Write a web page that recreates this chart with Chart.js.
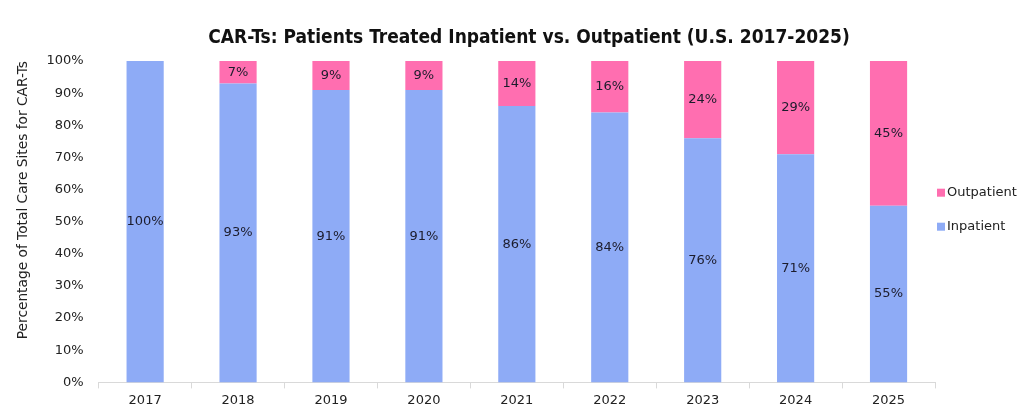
<!DOCTYPE html>
<html>
<head>
<meta charset="utf-8">
<script src="https://cdn.jsdelivr.net/npm/chart.js@4/dist/chart.umd.min.js"></script>
<style>
  html, body { margin: 0; padding: 0; background: #fff; }
  .chart { width: 1024px; height: 414px; position: relative; }
</style>
</head>
<body>
<div class="chart"><canvas id="chart"></canvas></div>
<script>
const years = ['2017', '2018', '2019', '2020', '2021', '2022', '2023', '2024', '2025']
const inpatient = [100, 93, 91, 91, 86, 84, 76, 71, 55]
const outpatient = [0, 7, 9, 9, 14, 16, 24, 29, 45]

const chartTitle = 'CAR-Ts: Patients Treated Inpatient vs. Outpatient (U.S. 2017-2025)'
const textColor = '#222'
const fontFamily = '"DejaVu Sans", Verdana, sans-serif'

// percentage in the middle of each bar segment
const segmentLabels = {
  id: 'segmentLabels',
  afterDatasetsDraw(chart) {
    const ctx = chart.ctx
    ctx.save()
    ctx.font = `13px ${fontFamily}`
    ctx.fillStyle = '#1c1c2c'
    ctx.textAlign = 'center'
    ctx.textBaseline = 'middle'
    chart.data.datasets.forEach((ds, i) => {
      const meta = chart.getDatasetMeta(i)
      meta.data.forEach((bar, j) => {
        const value = ds.data[j]
        if (!value) return
        ctx.fillText(value + '%', bar.x, (bar.y + bar.base) / 2)
      })
    })
    ctx.restore()
  },
}

// title and a compact legend next to the plot, placed like the original
const titleAndLegend = {
  id: 'titleAndLegend',
  afterDraw(chart) {
    const ctx = chart.ctx
    const area = chart.chartArea
    ctx.save()

    ctx.font = `bold 19px "DejaVu Sans Condensed", "DejaVu Sans", sans-serif`
    ctx.fillStyle = '#111'
    ctx.textAlign = 'center'
    ctx.textBaseline = 'middle'
    ctx.fillText(chartTitle, 529, 38)

    ctx.font = `13px ${fontFamily}`
    ctx.textAlign = 'left'
    const items = chart.data.datasets.slice().reverse()
    const midY = (area.top + area.bottom) / 2
    items.forEach((ds, i) => {
      const y = midY - 29 + i * 34
      ctx.fillStyle = ds.backgroundColor
      ctx.fillRect(area.right + 2, y - 4, 8, 8)
      ctx.fillStyle = textColor
      ctx.fillText(ds.label, area.right + 12, y)
    })
    ctx.restore()
  },
}

new Chart(document.getElementById('chart'), {
  type: 'bar',
  data: {
    labels: years,
    datasets: [
      {
        label: 'Inpatient',
        data: inpatient,
        backgroundColor: '#8eabf6',
        barPercentage: 0.4,
        categoryPercentage: 1,
      },
      {
        label: 'Outpatient',
        data: outpatient,
        backgroundColor: '#ff6eb0',
        barPercentage: 0.4,
        categoryPercentage: 1,
      },
    ],
  },
  options: {
    responsive: true,
    maintainAspectRatio: false,
    animation: false,
    layout: {
      padding: { top: 61, right: 89, left: 15, bottom: 2 },
    },
    plugins: {
      title: { display: false },
      legend: { display: false },
      tooltip: { enabled: false },
    },
    scales: {
      x: {
        stacked: true,
        grid: {
          display: true,
          drawOnChartArea: false,
          offset: true,
          tickLength: 6,
          color: '#d9d9d9',
        },
        border: { color: '#d9d9d9' },
        ticks: {
          color: textColor,
          font: { family: fontFamily, size: 13 },
          padding: 4,
        },
      },
      y: {
        stacked: true,
        min: 0,
        max: 100,
        grid: { display: false },
        border: { display: false },
        ticks: {
          stepSize: 10,
          color: textColor,
          font: { family: fontFamily, size: 13 },
          padding: 7,
          callback: (v) => v + '%',
        },
        title: {
          display: true,
          align: 'end',
          text: 'Percentage of Total Care Sites for CAR-Ts',
          color: textColor,
          font: { family: fontFamily, size: 13.75 },
          padding: { top: 0, bottom: 8 },
        },
      },
    },
  },
  plugins: [segmentLabels, titleAndLegend],
})
</script>
</body>
</html>
